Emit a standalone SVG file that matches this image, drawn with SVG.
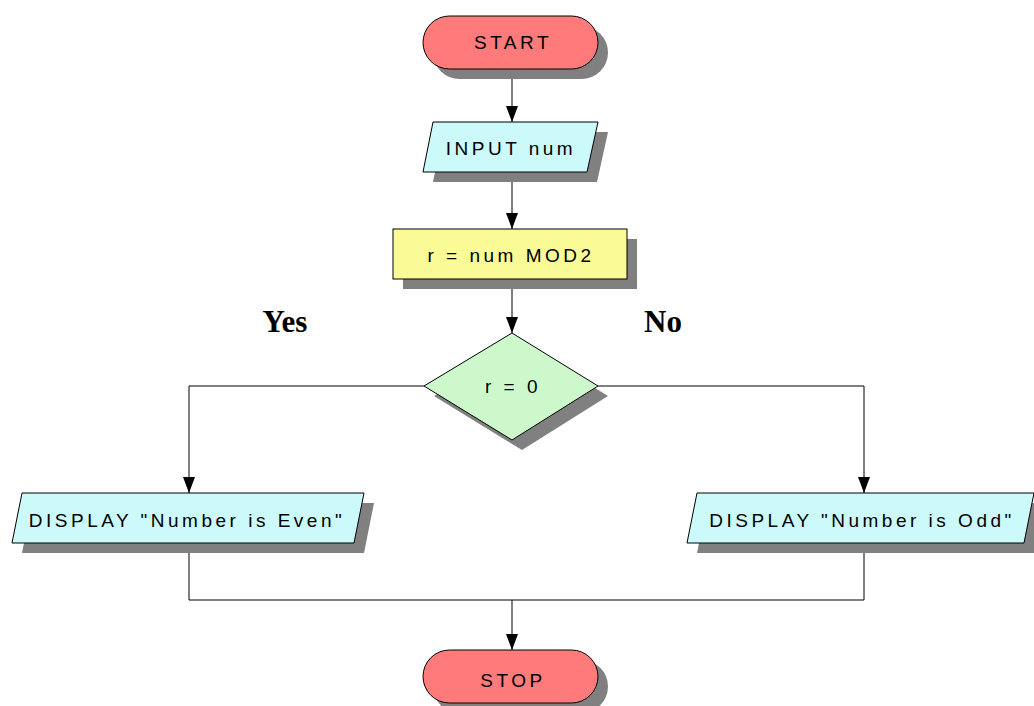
<svg xmlns="http://www.w3.org/2000/svg" width="1034" height="706" viewBox="0 0 1034 706">
<defs>
<style>
.sh{fill:#808080;stroke:none}
.term{fill:#ff7b7b;stroke:#000;stroke-width:1}
.io{fill:#ccf9f9;stroke:#000;stroke-width:1}
.proc{fill:#fafa96;stroke:#000;stroke-width:1}
.dec{fill:#ccf8cc;stroke:#000;stroke-width:1}
.t{font-family:"Liberation Sans",Arial,sans-serif;font-size:19px;letter-spacing:3.5px;fill:#000;text-anchor:middle}
.lbl{font-family:"Liberation Serif","Times New Roman",serif;font-size:31px;font-weight:bold;fill:#000;text-anchor:middle}
.c{fill:none;stroke:#000;stroke-width:1}
</style>
<marker id="ad" viewBox="0 0 16 12" refX="16" refY="6" markerWidth="16" markerHeight="12" markerUnits="userSpaceOnUse" orient="auto">
<path d="M0,0 L16,6 L0,12 Z" fill="#000"/>
</marker>
</defs>
<rect width="1034" height="706" fill="#fff"/>

<g id="connectors">
<line class="c" x1="512" y1="69" x2="512" y2="122" marker-end="url(#ad)"/>
<line class="c" x1="512" y1="182" x2="512" y2="229" marker-end="url(#ad)"/>
<line class="c" x1="512" y1="289" x2="512" y2="333" marker-end="url(#ad)"/>
<polyline class="c" points="424,386 189,386 189,493" marker-end="url(#ad)"/>
<polyline class="c" points="598,386 864,386 864,493" marker-end="url(#ad)"/>
<polyline class="c" points="189,553 189,600 864,600 864,553"/>
<line class="c" x1="512" y1="600" x2="512" y2="650" marker-end="url(#ad)"/>
</g>

<g id="start">
<rect class="sh" x="433" y="26" width="175" height="53" rx="26.5"/>
<rect class="term" x="423" y="16" width="175" height="53" rx="26.5"/>
<text class="t" x="513" y="49">START</text>
</g>

<g id="input">
<polygon class="sh" points="443,132 608,132 597,182 433,182"/>
<polygon class="io" points="433,122 598,122 587,172 423,172"/>
<text class="t" x="511" y="155">INPUT num</text>
</g>

<g id="process">
<rect class="sh" x="403" y="239" width="234" height="50"/>
<rect class="proc" x="393" y="229" width="234" height="50"/>
<text class="t" x="511" y="262">r = num MOD2</text>
</g>

<g id="decision">
<polygon class="sh" points="522,343 608,396 522,450 434,396"/>
<polygon class="dec" points="512,333 598,386 512,440 424,386"/>
<text class="t" x="513" y="393">r = 0</text>
</g>

<g id="even">
<polygon class="sh" points="32,503 374,503 364,553 22,553"/>
<polygon class="io" points="22,493 364,493 354,543 12,543"/>
<text class="t" x="187" y="527">DISPLAY "Number is Even"</text>
</g>

<g id="odd">
<polygon class="sh" points="707,503 1044,503 1034,553 697,553"/>
<polygon class="io" points="697,493 1034,493 1024,543 687,543"/>
<text class="t" x="862" y="527">DISPLAY "Number is Odd"</text>
</g>

<g id="stop">
<rect class="sh" x="433" y="660" width="175" height="53" rx="26.5"/>
<rect class="term" x="423" y="650" width="175" height="53" rx="26.5"/>
<text class="t" x="513" y="687">STOP</text>
</g>

<g id="labels">
<text class="lbl" x="285" y="332">Yes</text>
<text class="lbl" x="663" y="332">No</text>
</g>
</svg>
